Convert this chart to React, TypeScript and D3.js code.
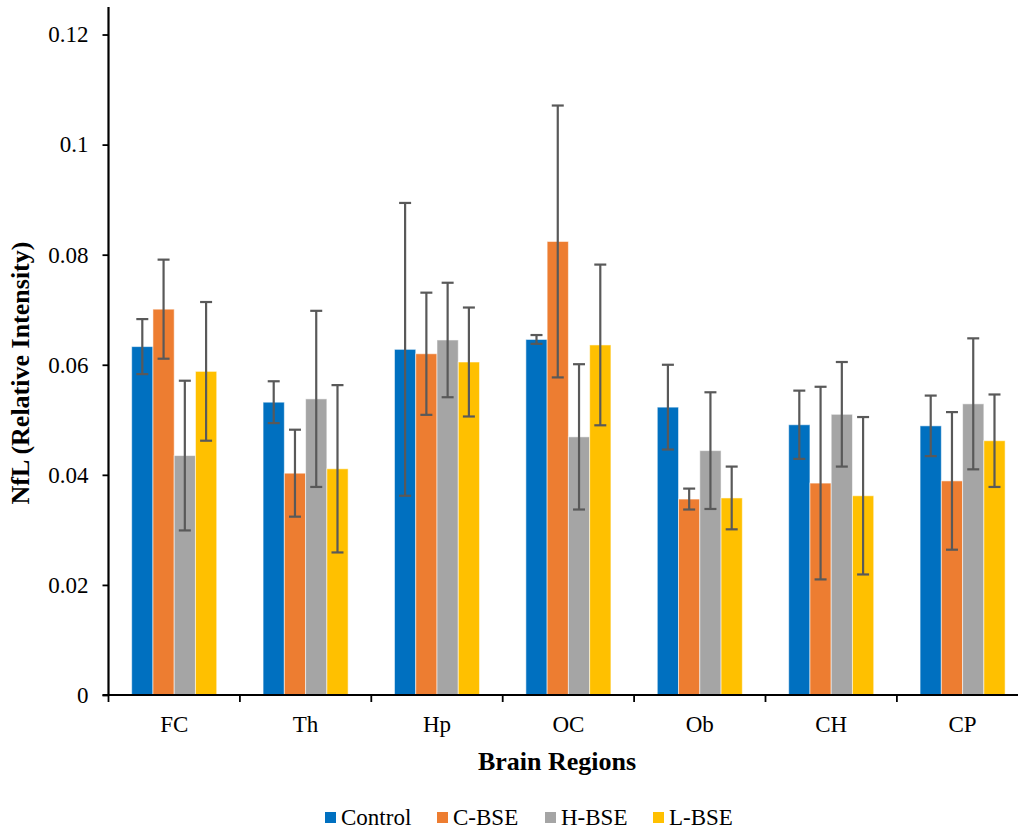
import { useRef, useEffect } from 'react';
import * as d3 from 'd3';

const regions = ['FC', 'Th', 'Hp', 'OC', 'Ob', 'CH', 'CP'];
const groups = ['Control', 'C-BSE', 'H-BSE', 'L-BSE'];
const colors = ['#0070C0', '#ED7D31', '#A5A5A5', '#FFC000'];

// mean values per group, one per region
const control = [0.0633, 0.0532, 0.0628, 0.0646, 0.0523, 0.0491, 0.0489];
const cBse = [0.0701, 0.0403, 0.062, 0.0824, 0.0356, 0.0385, 0.0389];
const hBse = [0.0435, 0.0538, 0.0645, 0.0469, 0.0444, 0.051, 0.0529];
const lBse = [0.0588, 0.0411, 0.0605, 0.0636, 0.0358, 0.0362, 0.0462];

// error bar half-lengths
const controlErr = [0.005, 0.0038, 0.0266, 0.0008, 0.0077, 0.0062, 0.0055];
const cBseErr = [0.009, 0.0079, 0.0111, 0.0247, 0.0019, 0.0175, 0.0125];
const hBseErr = [0.0136, 0.016, 0.0104, 0.0132, 0.0106, 0.0095, 0.0119];
const lBseErr = [0.0126, 0.0152, 0.0099, 0.0146, 0.0057, 0.0143, 0.0084];

const yTicks = [0, 0.02, 0.04, 0.06, 0.08, 0.1, 0.12];

const font = "'Liberation Serif', 'DejaVu Serif', serif";

const App = () => {
  const svgRef = useRef<SVGSVGElement>(null);

  useEffect(() => {
    const svg = d3.select(svgRef.current);
    svg.selectAll('*').remove();

    const left = 108.5;
    const bottom = 695;
    const step = 131.4;

    const means = [control, cBse, hBse, lBse];
    const errs = [controlErr, cBseErr, hBseErr, lBseErr];

    const x = d3
      .scaleBand()
      .domain(regions)
      .range([left, left + step * regions.length])
      .padding(0);

    const xs = d3
      .scaleBand()
      .domain(groups)
      .range([0, x.bandwidth()])
      .paddingInner(0)
      .paddingOuter(1.09);

    const y = d3.scaleLinear().domain([0, 0.125]).range([bottom, 7]);

    const data = regions.flatMap((r, i) =>
      groups.map((g, j) => ({ r, g, j, v: means[j][i], e: errs[j][i] }))
    );

    // bars
    svg
      .append('g')
      .selectAll('rect')
      .data(data)
      .join('rect')
      .attr('x', (d) => x(d.r) + xs(d.g))
      .attr('y', (d) => y(d.v))
      .attr('width', xs.bandwidth())
      .attr('height', (d) => bottom - y(d.v))
      .attr('fill', (d) => colors[d.j])
      .attr('stroke', 'rgba(255,255,255,0.55)')
      .attr('stroke-width', 1);

    // error bars
    const eb = svg
      .append('g')
      .attr('stroke', '#595959')
      .attr('stroke-width', 2.2)
      .selectAll('g')
      .data(data)
      .join('g')
      .attr('transform', (d) => `translate(${x(d.r) + xs(d.g) + xs.bandwidth() / 2},0)`);
    eb.append('line')
      .attr('y1', (d) => y(d.v + d.e))
      .attr('y2', (d) => y(d.v - d.e));
    eb.append('line')
      .attr('x1', -6)
      .attr('x2', 6)
      .attr('y1', (d) => y(d.v + d.e))
      .attr('y2', (d) => y(d.v + d.e));
    eb.append('line')
      .attr('x1', -6)
      .attr('x2', 6)
      .attr('y1', (d) => y(d.v - d.e))
      .attr('y2', (d) => y(d.v - d.e));

    // y axis
    const yAxis = svg
      .append('g')
      .attr('transform', `translate(${left},0)`)
      .call(
        d3
          .axisLeft(y)
          .tickValues(yTicks)
          .tickSize(6)
          .tickPadding(14)
          .tickFormat((d) => String(+d))
      );
    yAxis.attr('font-family', null).attr('font-size', null);
    yAxis.select('.domain').attr('stroke', '#000').attr('stroke-width', 2.2).attr('d', `M0,${y(0.125)}V${bottom}`);
    yAxis.selectAll('.tick line').attr('stroke', '#000').attr('stroke-width', 1.8);
    yAxis
      .selectAll('.tick text')
      .style('font-family', font)
      .style('font-size', '23px')
      .attr('fill', '#000');

    // x axis
    const xAxis = svg.append('g').attr('transform', `translate(0,${bottom})`);
    xAxis
      .append('line')
      .attr('x1', left - 6)
      .attr('x2', left + step * regions.length)
      .attr('stroke', '#000')
      .attr('stroke-width', 2.2);
    xAxis
      .selectAll('line.tk')
      .data(regions)
      .join('line')
      .attr('class', 'tk')
      .attr('x1', (d) => x(d))
      .attr('x2', (d) => x(d))
      .attr('y1', 0)
      .attr('y2', 7)
      .attr('stroke', '#000')
      .attr('stroke-width', 1.8);
    xAxis
      .selectAll('text')
      .data(regions)
      .join('text')
      .attr('x', (d) => x(d) + x.bandwidth() / 2)
      .attr('y', 37)
      .attr('text-anchor', 'middle')
      .style('font-family', font)
      .style('font-size', '23px')
      .text((d) => d);

    // axis titles
    svg
      .append('text')
      .attr('x', 557)
      .attr('y', 770)
      .attr('text-anchor', 'middle')
      .style('font-family', font)
      .style('font-weight', 'bold')
      .style('font-size', '26px')
      .text('Brain Regions');
    svg
      .append('text')
      .attr('transform', `translate(29,${y(0.0585)}) rotate(-90)`)
      .attr('text-anchor', 'middle')
      .style('font-family', font)
      .style('font-weight', 'bold')
      .style('font-size', '26px')
      .text('NfL (Relative Intensity)');

    // legend
    const legendX = [325, 437, 545, 653];
    const lg = svg
      .append('g')
      .selectAll('g')
      .data(groups)
      .join('g')
      .attr('transform', (d, i) => `translate(${legendX[i]},812)`);
    lg.append('rect')
      .attr('width', 11)
      .attr('height', 11)
      .attr('fill', (d, i) => colors[i]);
    lg.append('text')
      .attr('x', 16)
      .attr('y', 13)
      .style('font-family', font)
      .style('font-size', '23px')
      .text((d) => d);
  }, []);

  return (
    <svg
      ref={svgRef}
      width={1018}
      height={829}
      style={{ position: 'absolute', left: 0, top: 0, background: '#fff' }}
    />
  );
};

export default App;
